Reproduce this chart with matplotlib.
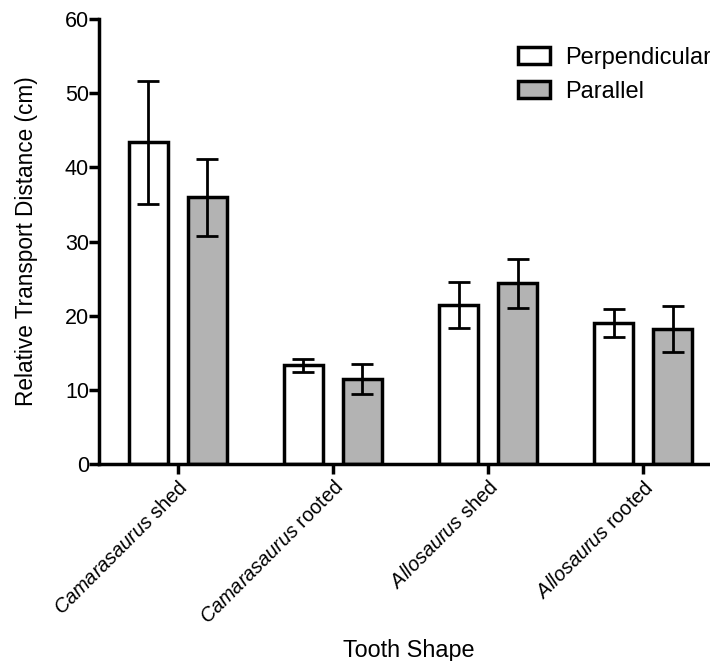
import matplotlib
matplotlib.use("Agg")
import matplotlib.pyplot as plt
from matplotlib.patches import Patch
import numpy as np

plt.rcParams['font.family'] = ['Liberation Sans', 'DejaVu Sans']
plt.rcParams['mathtext.fontset'] = 'custom'
plt.rcParams['mathtext.rm'] = 'Liberation Sans'
plt.rcParams['mathtext.it'] = 'Liberation Sans:italic'

categories = [r"$\it{Camarasaurus}$ shed", r"$\it{Camarasaurus}$ rooted",
              r"$\it{Allosaurus}$ shed", r"$\it{Allosaurus}$ rooted"]
perp_vals = [43.4, 13.3, 21.4, 19.0]
perp_err = [8.3, 0.9, 3.1, 1.9]
par_vals = [36.0, 11.5, 24.4, 18.2]
par_err = [5.2, 2.0, 3.3, 3.1]
series_names = ["Perpendicular", "Parallel"]

fig = plt.figure(figsize=(7.1, 6.61), dpi=100)
ax = fig.add_axes([0.139, 0.298, 0.861, 0.673])

x = np.arange(len(categories))
off = 0.19
w = 0.25
lw = 2.5
ax.bar(x - off, perp_vals, w, color='white', edgecolor='black', linewidth=lw, zorder=2)
ax.bar(x + off, par_vals, w, color='#b3b3b3', edgecolor='black', linewidth=lw, zorder=2)
ax.errorbar(x - off, perp_vals, yerr=perp_err, fmt='none', ecolor='black',
            elinewidth=2.0, capsize=8, capthick=2.0, zorder=3)
ax.errorbar(x + off, par_vals, yerr=par_err, fmt='none', ecolor='black',
            elinewidth=2.0, capsize=8, capthick=2.0, zorder=3)

ax.set_xlim(-0.51, 3.43)
ax.set_ylim(0, 60)
ax.set_yticks([0, 10, 20, 30, 40, 50, 60])
ax.set_xticks(x)
ax.set_xticklabels(categories, rotation=45, ha='right', rotation_mode='anchor', fontsize=14.3)

for s in ['top', 'right']:
    ax.spines[s].set_visible(False)
for s in ['left', 'bottom']:
    ax.spines[s].set_linewidth(2.5)
ax.tick_params(axis='both', width=2.5, length=7, direction='out')
ax.tick_params(axis='y', labelsize=15.5, pad=0)
ax.tick_params(axis='x', pad=3)

ax.set_ylabel("Relative Transport Distance (cm)", fontsize=16.3, labelpad=19)
ax.set_xlabel("Tooth Shape", fontsize=16.8)
ax.xaxis.set_label_coords(0.507, -0.394)

handles = [Patch(facecolor='white', edgecolor='black', linewidth=2.5),
           Patch(facecolor='#b3b3b3', edgecolor='black', linewidth=2.5)]
leg = ax.legend(handles, series_names, loc='upper left', bbox_to_anchor=(0.730, 0.929),
                bbox_transform=fig.transFigure, frameon=False, fontsize=17,
                handlelength=1.35, handleheight=0.7, handletextpad=0.65, labelspacing=0.5,
                borderaxespad=0, borderpad=0)

fig.savefig("out.png", dpi=100)
